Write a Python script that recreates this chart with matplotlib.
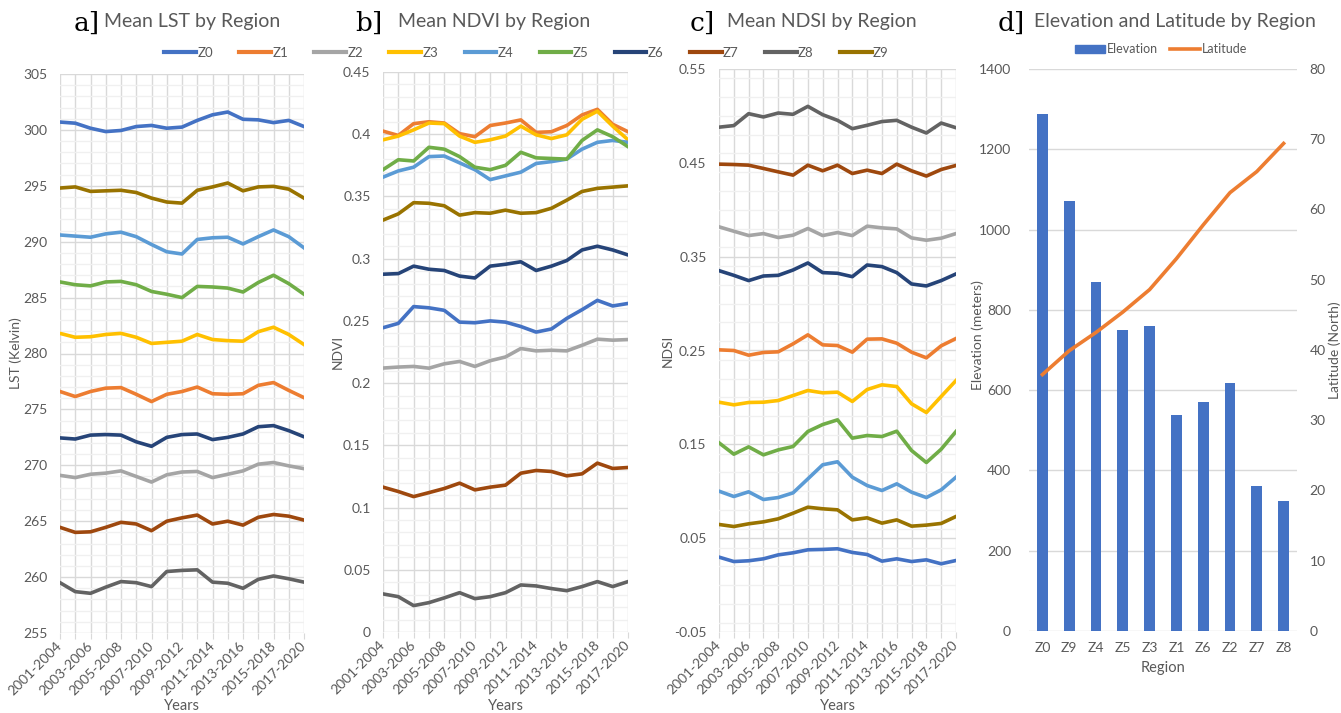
import matplotlib
matplotlib.use('Agg')
import matplotlib.pyplot as plt
from matplotlib.ticker import MultipleLocator, FuncFormatter
from matplotlib.patches import Patch
from matplotlib.lines import Line2D

# ---- data ----
periods = ['2001-2004', '2002-2005', '2003-2006', '2004-2007', '2005-2008', '2006-2009',
           '2007-2010', '2008-2011', '2009-2012', '2010-2013', '2011-2014', '2012-2015',
           '2013-2016', '2014-2017', '2015-2018', '2016-2019', '2017-2020']
regions = ['Z0', 'Z1', 'Z2', 'Z3', 'Z4', 'Z5', 'Z6', 'Z7', 'Z8', 'Z9']
colors = ['#4472C4', '#ED7D31', '#A5A5A5', '#FFC000', '#5B9BD5',
          '#70AD47', '#264478', '#9E480E', '#636363', '#997300']

# Mean LST (Kelvin)
lst_z0 = [300.7, 300.6, 300.15, 299.85, 299.95, 300.3, 300.4, 300.15, 300.25, 300.85, 301.35, 301.6, 300.95, 300.9, 300.65, 300.85, 300.3]
lst_z1 = [276.6, 276.15, 276.6, 276.9, 276.95, 276.35, 275.7, 276.35, 276.6, 277.0, 276.4, 276.35, 276.4, 277.15, 277.4, 276.7, 276.05]
lst_z2 = [269.1, 268.9, 269.2, 269.3, 269.5, 269.0, 268.5, 269.15, 269.4, 269.45, 268.9, 269.2, 269.5, 270.1, 270.25, 269.95, 269.7]
lst_z3 = [281.8, 281.45, 281.5, 281.7, 281.8, 281.45, 280.9, 281.0, 281.1, 281.7, 281.25, 281.15, 281.1, 281.95, 282.35, 281.7, 280.8]
lst_z4 = [290.6, 290.5, 290.4, 290.7, 290.85, 290.45, 289.75, 289.1, 288.9, 290.2, 290.35, 290.4, 289.8, 290.45, 291.05, 290.45, 289.45]
lst_z5 = [286.4, 286.15, 286.05, 286.4, 286.45, 286.15, 285.55, 285.3, 285.0, 286.0, 285.95, 285.85, 285.5, 286.35, 287.0, 286.25, 285.3]
lst_z6 = [272.45, 272.35, 272.7, 272.75, 272.7, 272.1, 271.7, 272.5, 272.75, 272.8, 272.3, 272.5, 272.8, 273.45, 273.55, 273.1, 272.55]
lst_z7 = [264.45, 264.0, 264.05, 264.45, 264.9, 264.75, 264.15, 265.0, 265.3, 265.55, 264.75, 265.0, 264.65, 265.35, 265.6, 265.45, 265.1]
lst_z8 = [259.5, 258.7, 258.55, 259.1, 259.6, 259.5, 259.15, 260.5, 260.6, 260.65, 259.55, 259.45, 259.0, 259.8, 260.1, 259.85, 259.55]
lst_z9 = [294.8, 294.9, 294.5, 294.55, 294.6, 294.4, 293.9, 293.55, 293.45, 294.6, 294.9, 295.25, 294.55, 294.9, 294.95, 294.7, 293.9]

# Mean NDVI
ndvi_z0 = [0.2445, 0.248, 0.2615, 0.2605, 0.2585, 0.249, 0.2485, 0.25, 0.249, 0.2455, 0.241, 0.2435, 0.252, 0.259, 0.2665, 0.262, 0.264]
ndvi_z1 = [0.4025, 0.399, 0.4085, 0.41, 0.409, 0.4005, 0.398, 0.407, 0.409, 0.4115, 0.4015, 0.402, 0.407, 0.4155, 0.42, 0.408, 0.402]
ndvi_z2 = [0.2121, 0.2129, 0.2134, 0.212, 0.2155, 0.2174, 0.2134, 0.218, 0.221, 0.2278, 0.2259, 0.2264, 0.2259, 0.2304, 0.2353, 0.2345, 0.235]
ndvi_z3 = [0.3955, 0.3985, 0.4035, 0.409, 0.4085, 0.3985, 0.3935, 0.3955, 0.3985, 0.4065, 0.3995, 0.3965, 0.3995, 0.412, 0.4185, 0.4065, 0.3955]
ndvi_z4 = [0.3655, 0.3705, 0.3735, 0.382, 0.3825, 0.377, 0.3715, 0.3635, 0.3665, 0.3695, 0.3765, 0.378, 0.38, 0.388, 0.3935, 0.395, 0.3935]
ndvi_z5 = [0.3715, 0.3795, 0.3785, 0.3895, 0.388, 0.382, 0.3735, 0.3715, 0.375, 0.3855, 0.381, 0.3805, 0.38, 0.395, 0.4035, 0.398, 0.39]
ndvi_z6 = [0.2875, 0.288, 0.294, 0.2915, 0.2905, 0.286, 0.2845, 0.294, 0.2955, 0.2975, 0.2905, 0.294, 0.2985, 0.307, 0.31, 0.307, 0.303]
ndvi_z7 = [0.1164, 0.1129, 0.1088, 0.112, 0.1153, 0.1196, 0.1142, 0.1164, 0.118, 0.1276, 0.1298, 0.129, 0.1255, 0.1271, 0.1357, 0.1314, 0.1322]
ndvi_z8 = [0.0306, 0.0284, 0.0212, 0.0236, 0.0274, 0.0316, 0.0268, 0.0284, 0.0316, 0.0378, 0.037, 0.0349, 0.0332, 0.0365, 0.0405, 0.0365, 0.0405]
ndvi_z9 = [0.331, 0.336, 0.345, 0.3445, 0.3425, 0.335, 0.337, 0.3365, 0.339, 0.3365, 0.337, 0.3405, 0.347, 0.354, 0.3565, 0.3575, 0.3585]

# Mean NDSI
ndsi_z0 = [0.0298, 0.0251, 0.0259, 0.028, 0.0322, 0.0344, 0.0376, 0.038, 0.0387, 0.0348, 0.0326, 0.0255, 0.028, 0.0251, 0.0269, 0.0227, 0.0262]
ndsi_z1 = [0.2507, 0.25, 0.245, 0.2479, 0.2486, 0.2571, 0.2667, 0.256, 0.2553, 0.2482, 0.2621, 0.2624, 0.2578, 0.2482, 0.2422, 0.255, 0.2628]
ndsi_z2 = [0.3818, 0.3771, 0.3725, 0.3746, 0.3704, 0.3729, 0.38, 0.3725, 0.3757, 0.3725, 0.3825, 0.3807, 0.3796, 0.37, 0.3675, 0.3697, 0.3746]
ndsi_z3 = [0.1949, 0.1921, 0.1946, 0.1949, 0.1967, 0.202, 0.2074, 0.2049, 0.2056, 0.1957, 0.2084, 0.2134, 0.2116, 0.1932, 0.1839, 0.201, 0.218]
ndsi_z4 = [0.1001, 0.0944, 0.0994, 0.0912, 0.0933, 0.0983, 0.1132, 0.1282, 0.1314, 0.115, 0.1061, 0.1008, 0.1079, 0.099, 0.0933, 0.1015, 0.115]
ndsi_z5 = [0.1516, 0.1395, 0.1473, 0.1388, 0.1441, 0.1477, 0.1637, 0.1711, 0.1761, 0.1566, 0.1594, 0.1583, 0.164, 0.1434, 0.1306, 0.1448, 0.1637]
ndsi_z6 = [0.3351, 0.3301, 0.3245, 0.3294, 0.3301, 0.3358, 0.3433, 0.333, 0.3323, 0.3287, 0.3411, 0.3394, 0.333, 0.3209, 0.3188, 0.3245, 0.3316]
ndsi_z7 = [0.4486, 0.4482, 0.4475, 0.444, 0.4404, 0.4369, 0.4475, 0.4415, 0.4475, 0.4386, 0.4422, 0.4386, 0.4486, 0.4415, 0.4359, 0.4429, 0.4472]
ndsi_z8 = [0.488, 0.4897, 0.5024, 0.4989, 0.5031, 0.5017, 0.5102, 0.5013, 0.4953, 0.4864, 0.49, 0.494, 0.4953, 0.488, 0.4818, 0.4924, 0.4874]
ndsi_z9 = [0.0646, 0.0624, 0.0653, 0.0674, 0.0706, 0.0766, 0.083, 0.0813, 0.0802, 0.0695, 0.0717, 0.066, 0.0695, 0.0628, 0.0639, 0.0657, 0.0731]

# Elevation and latitude, in the chart's region order
region_order = ['Z0', 'Z9', 'Z4', 'Z5', 'Z3', 'Z1', 'Z6', 'Z2', 'Z7', 'Z8']
elevation = [1287, 1071, 870, 750, 760, 539, 571, 617, 361, 325]
latitude = [36.5, 39.9, 42.5, 45.4, 48.6, 53.0, 57.8, 62.4, 65.4, 69.4]

lst = [lst_z0, lst_z1, lst_z2, lst_z3, lst_z4, lst_z5, lst_z6, lst_z7, lst_z8, lst_z9]
ndvi = [ndvi_z0, ndvi_z1, ndvi_z2, ndvi_z3, ndvi_z4, ndvi_z5, ndvi_z6, ndvi_z7, ndvi_z8, ndvi_z9]
ndsi = [ndsi_z0, ndsi_z1, ndsi_z2, ndsi_z3, ndsi_z4, ndsi_z5, ndsi_z6, ndsi_z7, ndsi_z8, ndsi_z9]

# ---- style ----
plt.rcParams['font.family'] = ['Lato', 'DejaVu Sans']
txt = '#595959'
major_grid = '#D9D9D9'
minor_grid = '#F0F0F0'
tick_fs = 10

W, H = 1341, 713
fig = plt.figure(figsize=(W / 100, H / 100), dpi=100)


def px_axes(l, t, r, b):
    return fig.add_axes([l / W, 1 - b / H, (r - l) / W, (b - t) / H])


def fmt_g(v, pos):
    return '{:g}'.format(round(v, 4))


def place_labels(ax, l, t, r, b, xlab_y, ylab_x, ylab_y=None):
    # centre the axis labels at given pixel positions
    ax.xaxis.set_label_coords(0.5, (b - xlab_y) / (b - t))
    ax.xaxis.label.set_va('center')
    yy = 0.5 if ylab_y is None else (b - ylab_y) / (b - t)
    ax.yaxis.set_label_coords((ylab_x - l) / (r - l), yy)
    ax.yaxis.label.set_va('center')


def line_panel(ax, data, ylim, yticks, minor, ylabel):
    x = list(range(len(periods)))
    for vals, c in zip(data, colors):
        ax.plot(x, vals, color=c, lw=2.6, solid_joinstyle='round', zorder=3)
    ax.set_xlim(0, len(periods) - 1)
    ax.set_ylim(*ylim)
    ax.set_yticks(yticks)
    ax.yaxis.set_minor_locator(MultipleLocator(minor))
    ax.yaxis.set_major_formatter(FuncFormatter(fmt_g))
    ax.set_xticks(x)
    ax.set_xticklabels([p if i % 2 == 0 else '' for i, p in enumerate(periods)],
                       rotation=45, ha='right', va='center', rotation_mode='anchor')
    ax.grid(True, which='major', axis='both', color=major_grid, lw=1, zorder=0)
    ax.grid(True, which='minor', axis='y', color=minor_grid, lw=1, zorder=0)
    for s in ax.spines.values():
        s.set_visible(False)
    ax.tick_params(axis='y', which='both', length=0, pad=9, labelsize=tick_fs, labelcolor=txt)
    ax.tick_params(axis='x', length=4, color=major_grid, pad=4, labelsize=tick_fs, labelcolor=txt)
    ax.set_ylabel(ylabel, color=txt, fontsize=10)
    ax.set_xlabel('Years', color=txt, fontsize=10.5)


# panel a
ax_a = px_axes(60, 74, 304, 633)
line_panel(ax_a, lst, (255, 305), [255, 260, 265, 270, 275, 280, 285, 290, 295, 300, 305], 1, 'LST (Kelvin)')
place_labels(ax_a, 60, 74, 304, 633, 706, 16)

# panel b
ax_b = px_axes(383, 72, 628, 632)
line_panel(ax_b, ndvi, (0, 0.45), [0, 0.05, 0.1, 0.15, 0.2, 0.25, 0.3, 0.35, 0.4, 0.45], 0.01, 'NDVI')
place_labels(ax_b, 383, 72, 628, 632, 706, 338)

# panel c
ax_c = px_axes(719, 69, 956, 632)
line_panel(ax_c, ndsi, (-0.05, 0.55), [-0.05, 0.05, 0.15, 0.25, 0.35, 0.45, 0.55], 0.02, 'NDSI')
place_labels(ax_c, 719, 69, 956, 632, 706, 668)

# panel d
ax_d = px_axes(1029, 69, 1297, 631)
xd = list(range(len(region_order)))
ax_d.bar(xd, elevation, width=0.4, color='#4472C4', zorder=3)
ax_d.set_xlim(-0.5, len(region_order) - 0.5)
ax_d.set_ylim(0, 1400)
ax_d.yaxis.set_major_locator(MultipleLocator(200))
ax_d.set_xticks(xd)
ax_d.set_xticklabels(region_order)
ax_d.grid(True, axis='y', color=major_grid, lw=1, zorder=0)
for s in ax_d.spines.values():
    s.set_visible(False)
ax_d.tick_params(axis='both', length=0, labelsize=tick_fs, labelcolor=txt)
ax_d.tick_params(axis='y', pad=13)
ax_d.tick_params(axis='x', pad=8)
ax_d.set_ylabel('Elevation (meters)', color=txt, fontsize=10)
ax_d.set_xlabel('Region', color=txt, fontsize=10.5)
place_labels(ax_d, 1029, 69, 1297, 631, 668, 978, 335)

ax_d2 = ax_d.twinx()
ax_d2.plot(xd, latitude, color='#ED7D31', lw=2.6, zorder=4)
ax_d2.set_ylim(0, 80)
ax_d2.yaxis.set_major_locator(MultipleLocator(10))
for s in ax_d2.spines.values():
    s.set_visible(False)
ax_d2.tick_params(axis='y', length=0, pad=9, labelsize=tick_fs, labelcolor=txt)
ax_d2.set_ylabel('Latitude (North)', color=txt, fontsize=10)
ax_d2.yaxis.set_label_coords((1335 - 1029) / 268, 0.5)
ax_d2.yaxis.label.set_va('center')

ax_d2.legend(handles=[Patch(color='#4472C4', label='Elevation'),
                      Line2D([], [], color='#ED7D31', lw=2.6, label='Latitude')],
             loc='center', bbox_to_anchor=((1161 - 1029) / 268, (631 - 49) / 562),
             ncol=2, frameon=False, fontsize=9, labelcolor=txt,
             handlelength=2.4, handleheight=0.6, handletextpad=0.2, columnspacing=0.9)

# shared legend across the three line panels
handles = [Line2D([], [], color=c, lw=3, label=r) for r, c in zip(regions, colors)]
fig.legend(handles=handles, loc='center', bbox_to_anchor=(526.5 / W, 1 - 53 / H),
           ncol=10, frameon=False, fontsize=9.5, labelcolor=txt,
           handlelength=2.4, handletextpad=0.1, columnspacing=2.0)

# titles
titles = [('a]', 74, 'Mean LST by Region', 104),
          ('b]', 355, 'Mean NDVI by Region', 398),
          ('c]', 690, 'Mean NDSI by Region', 727),
          ('d]', 998, 'Elevation and Latitude by Region', 1034)]
for tag, xt, title, xs in titles:
    fig.text(xt / W, 1 - 23 / H, tag, ha='left', va='center', fontsize=19,
             family='DejaVu Serif', color='black')
    fig.text(xs / W, 1 - 22 / H, title, ha='left', va='center', fontsize=14, color=txt)

fig.savefig('out.png', dpi=100, facecolor='white')
